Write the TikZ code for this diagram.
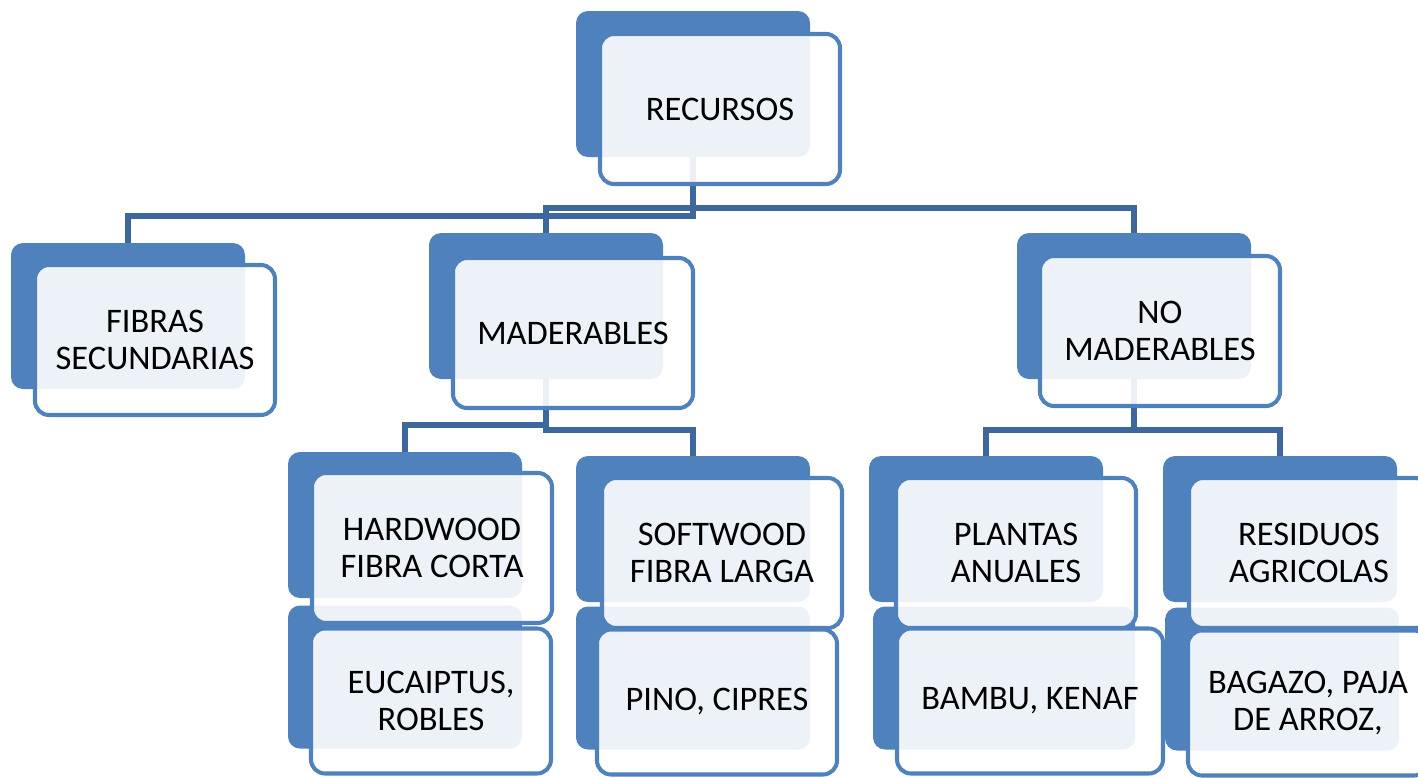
\documentclass[tikz,border=0pt]{standalone}
\usepackage{fontspec}
\setmainfont{Carlito}
\usepackage{xcolor}
\usepackage{tikz}
\usetikzlibrary{calc}
\definecolor{boxblue}{RGB}{79,129,189}
\definecolor{linkblue}{RGB}{62,104,157}
\newcommand{\pxl}{0.02cm}

\begin{document}
\begin{tikzpicture}[x=0.02cm,y=-0.02cm,
  bk/.style={fill=boxblue,rounded corners=0.24cm,minimum width=234*\pxl,minimum height=146*\pxl,inner sep=0pt},
  fr/.style={draw=boxblue,line width=2.3pt,fill=white,fill opacity=0.9,text opacity=1,rounded corners=0.28cm,
    minimum width=240*\pxl,minimum height=150*\pxl,inner sep=0pt,align=center,font=\fontsize{19.6}{21.5}\selectfont},
  frlow/.style={fr,minimum height=145*\pxl},
  link/.style={draw=linkblue,line width=3pt}]
\useasboundingbox(0,0)rectangle(1418,778);
\clip(0,0)rectangle(1418,778);
% back boxes
\node[bk](rec)at(693,84){};
\node[bk](fib)at(128,316){};\node[bk](mad)at(546,306){};\node[bk](nom)at(1134,306){};
\node[bk](hard)at(405,525){};\node[bk](soft)at(693,529){};\node[bk](plan)at(986,529){};\node[bk](resi)at(1280,529){};
\node[bk,minimum height=143*\pxl](euc)at(405,677){};\node[bk,minimum height=143*\pxl](pino)at(693,678){};
\node[bk,minimum width=262*\pxl,minimum height=143*\pxl](bamb)at(1004,678){};\node[bk,minimum height=143*\pxl](bag)at(1282,679){};
% connectors
\draw[link](rec.south)--(rec.south|-0,216)-|(fib.north);
\draw[link](rec.south)--(rec.south|-0,208)-|(mad.north);
\draw[link](rec.south)--(rec.south|-0,208)-|(nom.north);
\draw[link](mad.south)--(mad.south|-0,425)-|(hard.north);
\draw[link](mad.south)--(mad.south|-0,430)-|(soft.north);
\draw[link](nom.south)--(nom.south|-0,430)-|(plan.north);
\draw[link](nom.south)--(nom.south|-0,430)-|(resi.north);
% front boxes
\node[fr](recf)at(720,109){RECURSOS};
\node[fr](fibf)at(155,340){FIBRAS\\SECUNDARIAS};
\node[fr](madf)at(573,333){MADERABLES};
\node[fr](nomf)at(1160,331){NO\\MADERABLES};
\node[fr](hardf)at(432,548){HARDWOOD\\FIBRA CORTA};
\node[fr](softf)at(722,553){SOFTWOOD\\FIBRA LARGA};
\node[fr](planf)at(1016,553){PLANTAS\\ANUALES};
\node[fr](resif)at(1309,553){RESIDUOS\\AGRICOLAS};
\node[frlow](eucf)at(431,701){EUCAIPTUS,\\ROBLES};
\node[frlow](pinof)at(717,702){PINO, CIPRES};
\node[frlow,minimum width=266*\pxl](bambf)at(1030,701){BAMBU, KENAF};
\node[frlow](bagf)at(1308,703){BAGAZO, PAJA\\DE ARROZ,};
\end{tikzpicture}
\end{document}
